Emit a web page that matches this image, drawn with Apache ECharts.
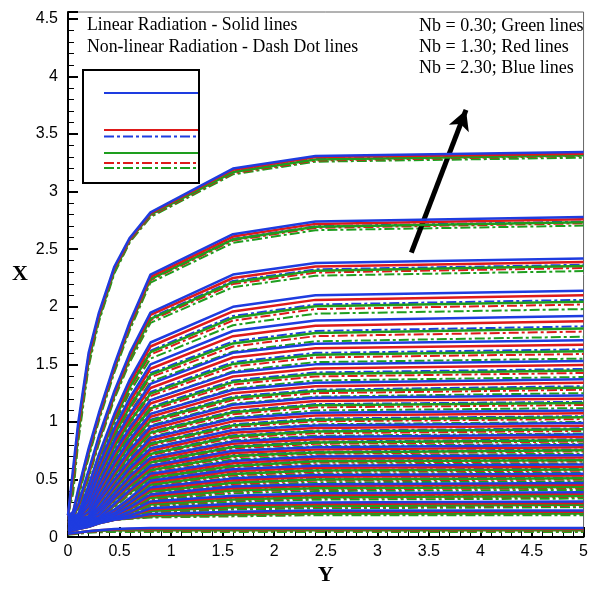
<!DOCTYPE html>
<html><head><meta charset="utf-8">
<script src="https://cdn.jsdelivr.net/npm/echarts@6/dist/echarts.min.js"></script>
<style>html,body{margin:0;padding:0;background:#fff}#c{width:591px;height:591px}</style>
</head><body><div id="c"></div>
<script>
// Y positions (horizontal axis) at which each contour's X value was read
const yGrid = [0, 0.05, 0.1, 0.2, 0.3, 0.45, 0.6, 0.8, 1.6, 2.4, 5];

// Nb = 2.30, linear radiation (blue solid)
const blueSolid = [
 [0.19,0.60,1.00,1.60,1.95,2.35,2.60,2.82,3.20,3.31,3.345],
 [0.18,0.22,0.42,0.77,1.08,1.50,1.87,2.28,2.63,2.74,2.78],
 [0.175,0.19,0.29,0.58,0.88,1.27,1.60,1.95,2.28,2.38,2.42],
 [0.17,0.18,0.20,0.45,0.72,1.07,1.37,1.69,2.00,2.10,2.14],
 [0.165,0.175,0.18,0.38,0.63,0.95,1.21,1.50,1.79,1.88,1.92],
 [0.16,0.17,0.175,0.32,0.55,0.84,1.07,1.33,1.60,1.68,1.71],
 [0.155,0.165,0.17,0.27,0.47,0.74,0.95,1.19,1.43,1.50,1.53],
 [0.15,0.16,0.165,0.22,0.41,0.65,0.85,1.07,1.28,1.34,1.37],
 [0.145,0.155,0.16,0.18,0.35,0.57,0.76,0.96,1.15,1.21,1.23],
 [0.14,0.15,0.155,0.17,0.31,0.50,0.67,0.86,1.03,1.08,1.10],
 [0.13,0.14,0.15,0.165,0.26,0.44,0.60,0.77,0.93,0.97,0.99],
 [0.125,0.135,0.145,0.16,0.23,0.38,0.53,0.69,0.83,0.87,0.89],
 [0.12,0.13,0.14,0.155,0.20,0.34,0.47,0.62,0.75,0.78,0.80],
 [0.11,0.12,0.13,0.15,0.17,0.29,0.41,0.55,0.66,0.70,0.71],
 [0.10,0.11,0.12,0.14,0.16,0.24,0.34,0.49,0.59,0.62,0.63],
 [0.09,0.10,0.11,0.13,0.155,0.21,0.30,0.43,0.51,0.54,0.55],
 [0.08,0.09,0.10,0.12,0.15,0.19,0.26,0.37,0.44,0.46,0.47],
 [0.07,0.08,0.09,0.11,0.14,0.17,0.22,0.31,0.36,0.38,0.39],
 [0.06,0.07,0.08,0.10,0.13,0.16,0.19,0.25,0.29,0.30,0.31],
 [0.05,0.06,0.07,0.09,0.12,0.15,0.17,0.20,0.22,0.23,0.23],
 [0.03,0.035,0.04,0.05,0.06,0.07,0.075,0.08,0.08,0.08,0.08]
];
// Nb = 1.30, linear radiation (red solid)
const redSolid = [
 [0.19,0.545,0.96,1.57,1.93,2.335,2.59,2.81,3.19,3.30,3.33],
 [0.18,0.215,0.40,0.75,1.06,1.48,1.85,2.26,2.61,2.72,2.76],
 [0.175,0.19,0.275,0.56,0.86,1.25,1.58,1.93,2.25,2.35,2.39],
 [0.17,0.18,0.197,0.435,0.705,1.047,1.342,1.655,1.96,2.06,2.10],
 [0.165,0.175,0.18,0.367,0.612,0.925,1.177,1.462,1.745,1.835,1.875],
 [0.16,0.17,0.175,0.31,0.535,0.817,1.042,1.295,1.56,1.64,1.67],
 [0.155,0.165,0.17,0.262,0.455,0.72,0.925,1.16,1.395,1.465,1.495],
 [0.15,0.16,0.165,0.215,0.397,0.632,0.83,1.045,1.25,1.31,1.34],
 [0.145,0.155,0.16,0.177,0.34,0.555,0.74,0.937,1.122,1.182,1.202],
 [0.14,0.15,0.155,0.168,0.302,0.487,0.652,0.839,1.005,1.055,1.075],
 [0.13,0.14,0.15,0.165,0.255,0.427,0.585,0.75,0.907,0.947,0.967],
 [0.125,0.135,0.145,0.16,0.227,0.37,0.517,0.672,0.81,0.85,0.87],
 [0.12,0.13,0.14,0.155,0.197,0.332,0.457,0.604,0.731,0.761,0.781],
 [0.11,0.12,0.13,0.15,0.17,0.282,0.40,0.535,0.642,0.682,0.692],
 [0.10,0.11,0.12,0.14,0.16,0.235,0.33,0.475,0.572,0.602,0.612],
 [0.09,0.10,0.11,0.13,0.155,0.207,0.292,0.416,0.494,0.524,0.534],
 [0.08,0.09,0.10,0.12,0.15,0.187,0.252,0.357,0.425,0.445,0.455],
 [0.07,0.08,0.09,0.11,0.14,0.17,0.215,0.299,0.346,0.366,0.376],
 [0.06,0.07,0.08,0.10,0.13,0.16,0.187,0.24,0.277,0.287,0.297],
 [0.05,0.06,0.07,0.09,0.12,0.15,0.167,0.192,0.21,0.22,0.22],
 [0.03,0.035,0.04,0.05,0.06,0.065,0.07,0.071,0.071,0.071,0.071]
];
// Nb = 0.30, linear radiation (green solid)
const greenSolid = [
 [0.19,0.47,0.90,1.53,1.90,2.31,2.58,2.80,3.17,3.28,3.315],
 [0.18,0.21,0.37,0.72,1.04,1.46,1.83,2.24,2.585,2.695,2.735],
 [0.175,0.19,0.254,0.538,0.838,1.228,1.552,1.896,2.214,2.314,2.354],
 [0.17,0.18,0.194,0.414,0.684,1.016,1.304,1.606,1.904,2.004,2.044],
 [0.165,0.175,0.18,0.35,0.588,0.89,1.132,1.41,1.682,1.772,1.812],
 [0.16,0.17,0.175,0.296,0.514,0.786,1.004,1.246,1.504,1.584,1.614],
 [0.155,0.165,0.17,0.252,0.434,0.692,0.89,1.118,1.346,1.416,1.446],
 [0.15,0.16,0.165,0.208,0.38,0.608,0.802,1.01,1.208,1.268,1.298],
 [0.145,0.155,0.16,0.174,0.326,0.534,0.712,0.906,1.084,1.144,1.164],
 [0.14,0.15,0.155,0.165,0.292,0.47,0.628,0.809,0.97,1.02,1.04],
 [0.13,0.14,0.15,0.165,0.248,0.41,0.564,0.722,0.876,0.916,0.936],
 [0.125,0.135,0.145,0.16,0.224,0.356,0.50,0.648,0.782,0.822,0.842],
 [0.12,0.13,0.14,0.155,0.194,0.322,0.44,0.581,0.705,0.735,0.755],
 [0.11,0.12,0.13,0.15,0.17,0.272,0.386,0.514,0.618,0.658,0.668],
 [0.10,0.11,0.12,0.14,0.16,0.228,0.316,0.454,0.548,0.578,0.588],
 [0.09,0.10,0.11,0.13,0.155,0.204,0.282,0.397,0.471,0.501,0.511],
 [0.08,0.09,0.10,0.12,0.15,0.184,0.242,0.34,0.404,0.424,0.434],
 [0.07,0.08,0.09,0.11,0.14,0.17,0.208,0.283,0.327,0.347,0.357],
 [0.06,0.07,0.08,0.10,0.13,0.16,0.184,0.226,0.26,0.27,0.28],
 [0.05,0.06,0.07,0.09,0.12,0.15,0.164,0.182,0.196,0.206,0.206],
 [0.03,0.035,0.04,0.05,0.055,0.058,0.059,0.059,0.059,0.059,0.059]
];
// Nb = 2.30, non-linear radiation (blue dash-dot)
const blueDashDot = [
 [0.19,0.49,0.915,1.54,1.91,2.32,2.58,2.80,3.175,3.285,3.32],
 [0.18,0.21,0.38,0.73,1.045,1.465,1.835,2.245,2.59,2.70,2.74],
 [0.175,0.19,0.26,0.545,0.845,1.235,1.56,1.905,2.225,2.325,2.365],
 [0.17,0.18,0.195,0.42,0.69,1.025,1.315,1.62,1.92,2.02,2.06],
 [0.165,0.175,0.18,0.355,0.595,0.90,1.145,1.425,1.70,1.79,1.83],
 [0.16,0.17,0.175,0.30,0.52,0.795,1.015,1.26,1.52,1.60,1.63],
 [0.155,0.165,0.17,0.255,0.44,0.70,0.90,1.13,1.36,1.43,1.46],
 [0.15,0.16,0.165,0.21,0.385,0.615,0.81,1.02,1.22,1.28,1.31],
 [0.145,0.155,0.16,0.175,0.33,0.54,0.72,0.915,1.095,1.155,1.175],
 [0.14,0.15,0.155,0.166,0.295,0.475,0.635,0.817,0.98,1.03,1.05],
 [0.13,0.14,0.15,0.165,0.25,0.415,0.57,0.73,0.885,0.925,0.945],
 [0.125,0.135,0.145,0.16,0.225,0.36,0.505,0.655,0.79,0.83,0.85],
 [0.12,0.13,0.14,0.155,0.195,0.325,0.445,0.587,0.712,0.742,0.762],
 [0.11,0.12,0.13,0.15,0.17,0.275,0.39,0.52,0.625,0.665,0.675],
 [0.10,0.11,0.12,0.14,0.16,0.23,0.32,0.46,0.555,0.585,0.595],
 [0.09,0.10,0.11,0.13,0.155,0.205,0.285,0.402,0.477,0.507,0.517],
 [0.08,0.09,0.10,0.12,0.15,0.185,0.245,0.345,0.41,0.43,0.44],
 [0.07,0.08,0.09,0.11,0.14,0.17,0.21,0.287,0.332,0.352,0.362],
 [0.06,0.07,0.08,0.10,0.13,0.16,0.185,0.23,0.265,0.275,0.285],
 [0.05,0.06,0.07,0.09,0.12,0.15,0.165,0.185,0.20,0.21,0.21],
 [0.03,0.035,0.04,0.05,0.055,0.06,0.062,0.063,0.063,0.063,0.063]
];
// Nb = 1.30, non-linear radiation (red dash-dot)
const redDashDot = [
 [0.19,0.435,0.87,1.51,1.89,2.305,2.57,2.79,3.16,3.27,3.31],
 [0.18,0.205,0.36,0.71,1.03,1.45,1.82,2.23,2.575,2.685,2.725],
 [0.175,0.19,0.245,0.527,0.827,1.217,1.54,1.882,2.197,2.297,2.337],
 [0.17,0.18,0.192,0.405,0.675,1.002,1.287,1.585,1.88,1.98,2.02],
 [0.165,0.175,0.18,0.342,0.577,0.875,1.112,1.387,1.655,1.745,1.785],
 [0.16,0.17,0.175,0.29,0.505,0.772,0.987,1.225,1.48,1.56,1.59],
 [0.155,0.165,0.17,0.247,0.425,0.68,0.875,1.10,1.325,1.395,1.425],
 [0.15,0.16,0.165,0.205,0.372,0.597,0.79,0.995,1.19,1.25,1.28],
 [0.145,0.155,0.16,0.172,0.32,0.525,0.70,0.892,1.067,1.127,1.147],
 [0.14,0.15,0.155,0.163,0.287,0.462,0.617,0.796,0.955,1.005,1.025],
 [0.13,0.14,0.15,0.165,0.245,0.402,0.555,0.71,0.862,0.902,0.922],
 [0.125,0.135,0.145,0.16,0.222,0.35,0.492,0.637,0.77,0.81,0.83],
 [0.12,0.13,0.14,0.155,0.192,0.317,0.432,0.571,0.694,0.724,0.744],
 [0.11,0.12,0.13,0.15,0.17,0.267,0.38,0.505,0.607,0.647,0.657],
 [0.10,0.11,0.12,0.14,0.16,0.225,0.31,0.445,0.537,0.567,0.577],
 [0.09,0.10,0.11,0.13,0.155,0.202,0.277,0.389,0.461,0.491,0.501],
 [0.08,0.09,0.10,0.12,0.15,0.182,0.237,0.332,0.395,0.415,0.425],
 [0.07,0.08,0.09,0.11,0.14,0.17,0.205,0.276,0.319,0.339,0.349],
 [0.06,0.07,0.08,0.10,0.13,0.16,0.182,0.22,0.252,0.262,0.272],
 [0.05,0.06,0.07,0.09,0.12,0.15,0.162,0.177,0.19,0.20,0.20],
 [0.025,0.03,0.035,0.045,0.05,0.053,0.054,0.054,0.054,0.054,0.054]
];
// Nb = 0.30, non-linear radiation (green dash-dot)
const greenDashDot = [
 [0.19,0.38,0.83,1.48,1.87,2.29,2.56,2.78,3.15,3.26,3.295],
 [0.18,0.20,0.34,0.69,1.01,1.43,1.80,2.21,2.555,2.665,2.705],
 [0.175,0.19,0.23,0.51,0.81,1.20,1.52,1.86,2.17,2.27,2.31],
 [0.17,0.18,0.19,0.39,0.66,0.98,1.26,1.55,1.84,1.94,1.98],
 [0.165,0.175,0.18,0.33,0.56,0.85,1.08,1.35,1.61,1.70,1.74],
 [0.16,0.17,0.175,0.28,0.49,0.75,0.96,1.19,1.44,1.52,1.55],
 [0.155,0.165,0.17,0.24,0.41,0.66,0.85,1.07,1.29,1.36,1.39],
 [0.15,0.16,0.165,0.20,0.36,0.58,0.77,0.97,1.16,1.22,1.25],
 [0.145,0.155,0.16,0.17,0.31,0.51,0.68,0.87,1.04,1.10,1.12],
 [0.14,0.15,0.155,0.16,0.28,0.45,0.60,0.775,0.93,0.98,1.00],
 [0.13,0.14,0.15,0.165,0.24,0.39,0.54,0.69,0.84,0.88,0.90],
 [0.125,0.135,0.145,0.16,0.22,0.34,0.48,0.62,0.75,0.79,0.81],
 [0.12,0.13,0.14,0.155,0.19,0.31,0.42,0.555,0.675,0.705,0.725],
 [0.11,0.12,0.13,0.15,0.17,0.26,0.37,0.49,0.59,0.63,0.64],
 [0.10,0.11,0.12,0.14,0.16,0.22,0.30,0.43,0.52,0.55,0.56],
 [0.09,0.10,0.11,0.13,0.155,0.20,0.27,0.375,0.445,0.475,0.485],
 [0.08,0.09,0.10,0.12,0.15,0.18,0.23,0.32,0.38,0.40,0.41],
 [0.07,0.08,0.09,0.11,0.14,0.17,0.20,0.265,0.305,0.325,0.335],
 [0.06,0.07,0.08,0.10,0.13,0.16,0.18,0.21,0.24,0.25,0.26],
 [0.05,0.06,0.07,0.09,0.12,0.15,0.16,0.17,0.18,0.19,0.19],
 [0.02,0.025,0.03,0.038,0.042,0.045,0.045,0.045,0.045,0.045,0.045]
];

// axis tick values
const xTicks = {min: 0, max: 5, step: 0.5};
const yTicks = {min: 0, max: 4.56, step: 0.5};

// arrow annotation (Y, X) in data space
const arrowFrom = [3.33, 2.47];
const arrowTo = [3.86, 3.71];

const C = {blue: '#1e3ce0', red: '#de1a1a', green: '#1e9e1e'};
const dashDot = [10, 3, 3, 3];

const families = [
  {curves: greenDashDot, color: C.green, dash: true},
  {curves: redDashDot, color: C.red, dash: true},
  {curves: blueDashDot, color: C.blue, dash: true},
  {curves: greenSolid, color: C.green, dash: false},
  {curves: redSolid, color: C.red, dash: false},
  {curves: blueSolid, color: C.blue, dash: false}
];

const series = [];
families.forEach((f, fi) => {
  f.curves.forEach(curve => {
    series.push({
      type: 'line',
      data: curve.map((v, i) => [yGrid[i], v]),
      showSymbol: false,
      silent: true,
      z: 2 + fi,
      lineStyle: {color: f.color, width: f.dash ? 2 : 2.5, type: f.dash ? dashDot : 'solid'}
    });
  });
});
series.push({
  type: 'line', data: [], silent: true, z: 20,
  markLine: {
    silent: true, symbol: ['none', 'arrow'], symbolSize: [16, 20],
    label: {show: false},
    lineStyle: {color: '#000', width: 5, type: 'solid'},
    itemStyle: {color: '#000'},
    data: [[{coord: arrowFrom}, {coord: arrowTo}]]
  }
});

const serif = "'Liberation Serif','Times New Roman',serif";
const sans = "'Liberation Sans',Arial,sans-serif";

function keyLine(y, color, dash) {
  return {type: 'line', shape: {x1: 104, y1: y, x2: 198, y2: y},
          style: {stroke: color, lineWidth: 2, lineDash: dash ? dashDot : null}, z: 100};
}

const chart = echarts.init(document.getElementById('c'), null, {renderer: 'canvas'});
chart.setOption({
  animation: false,
  backgroundColor: '#fff',
  grid: {left: 68, right: 2, top: 12, bottom: 46, show: true, borderColor: '#666', borderWidth: 1},
  xAxis: {
    type: 'value', min: xTicks.min, max: xTicks.max, interval: xTicks.step,
    name: 'Y', nameLocation: 'middle', nameGap: 24,
    nameTextStyle: {fontFamily: serif, fontWeight: 'bold', fontSize: 22, color: '#000'},
    axisLine: {show: true, onZero: false, lineStyle: {color: '#000', width: 2}},
    axisTick: {show: true, inside: true, length: 10, lineStyle: {color: '#000', width: 2}},
    minorTick: {show: true, splitNumber: 5, length: 6, lineStyle: {color: '#000', width: 1}},
    axisLabel: {fontFamily: sans, fontSize: 16, color: '#000', margin: 6},
    splitLine: {show: false}
  },
  yAxis: {
    type: 'value', min: yTicks.min, max: yTicks.max, interval: yTicks.step,
    name: 'X', nameLocation: 'middle', nameGap: 40, nameRotate: 0,
    nameTextStyle: {fontFamily: serif, fontWeight: 'bold', fontSize: 22, color: '#000', padding: [0, 0, 26, 0]},
    axisLine: {show: true, onZero: false, lineStyle: {color: '#000', width: 2}},
    axisTick: {show: true, inside: true, length: 10, lineStyle: {color: '#000', width: 2}},
    minorTick: {show: true, splitNumber: 5, length: 6, lineStyle: {color: '#000', width: 1}},
    axisLabel: {fontFamily: sans, fontSize: 16, color: '#000', margin: 10, showMaxLabel: false},
    splitLine: {show: false}
  },
  graphic: [
    {type: 'text', left: 87, top: 16, z: 100, style: {text: 'Linear Radiation - Solid lines', font: '17.8px ' + serif, fill: '#000'}},
    {type: 'text', left: 87, top: 38, z: 100, style: {text: 'Non-linear Radiation - Dash Dot lines', font: '17.8px ' + serif, fill: '#000'}},
    {type: 'text', left: 419, top: 17, z: 100, style: {text: 'Nb = 0.30; Green lines', font: '18px ' + serif, fill: '#000'}},
    {type: 'text', left: 419, top: 38, z: 100, style: {text: 'Nb = 1.30; Red lines', font: '18px ' + serif, fill: '#000'}},
    {type: 'text', left: 419, top: 59, z: 100, style: {text: 'Nb = 2.30; Blue lines', font: '18px ' + serif, fill: '#000'}},
    {type: 'rect', shape: {x: 83, y: 70, width: 116, height: 113}, style: {fill: '#fff', stroke: '#000', lineWidth: 2}, z: 99},
    keyLine(93, C.blue, false),
    keyLine(130, C.red, false),
    keyLine(136.5, C.blue, true),
    keyLine(153, C.green, false),
    keyLine(163, C.red, true),
    keyLine(168, C.green, true)
  ],
  series: series
});
</script>
</body></html>
